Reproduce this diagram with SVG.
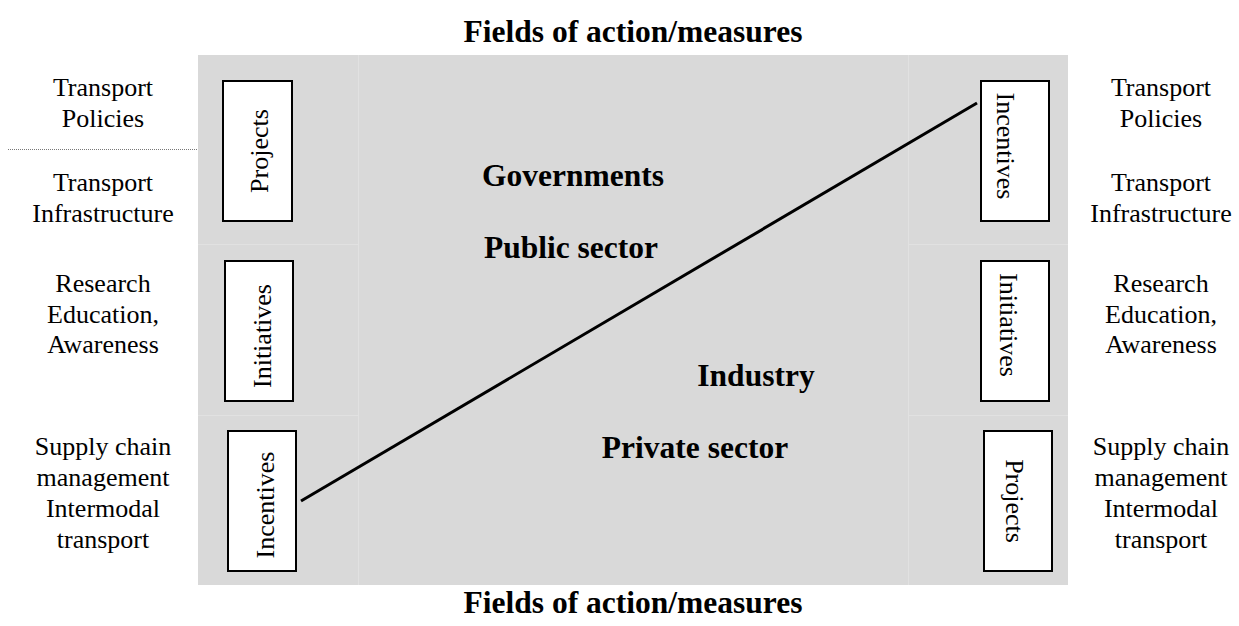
<svg xmlns="http://www.w3.org/2000/svg" width="1239" height="626" viewBox="0 0 1239 626">
<style>
.reg{font-family:"Liberation Serif","Times New Roman",serif;font-size:26px;fill:#000;text-anchor:middle}
.bold{font-family:"Liberation Serif","Times New Roman",serif;font-size:31.5px;font-weight:bold;fill:#000;text-anchor:middle}
.box{fill:#fff;stroke:#000;stroke-width:2}
.faint{stroke:#e1e1e1;stroke-width:1;fill:none}
</style>
<rect x="198" y="55" width="870" height="530" fill="#d9d9d9"/>
<g id="grid">
<line class="faint" x1="358.5" y1="55" x2="358.5" y2="585"/>
<line class="faint" x1="908.5" y1="55" x2="908.5" y2="585"/>
<line class="faint" x1="198" y1="244.5" x2="358" y2="244.5"/>
<line class="faint" x1="198" y1="415.5" x2="358" y2="415.5"/>
<line class="faint" x1="908" y1="244.5" x2="1068" y2="244.5"/>
<line class="faint" x1="908" y1="415.5" x2="1068" y2="415.5"/>
</g>
<line x1="8" y1="149.5" x2="198" y2="149.5" stroke="#777" stroke-width="1" stroke-dasharray="1,1"/>
<text class="bold" x="633" y="42">Fields of action/measures</text>
<text class="bold" x="633" y="613">Fields of action/measures</text>
<g id="left-labels">
<text class="reg" x="103" y="96">Transport</text>
<text class="reg" x="103" y="127">Policies</text>
<text class="reg" x="103" y="191">Transport</text>
<text class="reg" x="103" y="222">Infrastructure</text>
<text class="reg" x="103" y="292">Research</text>
<text class="reg" x="103" y="323">Education,</text>
<text class="reg" x="103" y="353">Awareness</text>
<text class="reg" x="103" y="455">Supply chain</text>
<text class="reg" x="103" y="486">management</text>
<text class="reg" x="103" y="517">Intermodal</text>
<text class="reg" x="103" y="548">transport</text>
</g>
<g id="right-labels">
<text class="reg" x="1161" y="96">Transport</text>
<text class="reg" x="1161" y="127">Policies</text>
<text class="reg" x="1161" y="191">Transport</text>
<text class="reg" x="1161" y="222">Infrastructure</text>
<text class="reg" x="1161" y="292">Research</text>
<text class="reg" x="1161" y="323">Education,</text>
<text class="reg" x="1161" y="353">Awareness</text>
<text class="reg" x="1161" y="455">Supply chain</text>
<text class="reg" x="1161" y="486">management</text>
<text class="reg" x="1161" y="517">Intermodal</text>
<text class="reg" x="1161" y="548">transport</text>
</g>
<g id="center-labels">
<text class="bold" x="573" y="186">Governments</text>
<text class="bold" x="571" y="258">Public sector</text>
<text class="bold" x="756" y="386">Industry</text>
<text class="bold" x="695" y="458">Private sector</text>
</g>
<g id="connectors">
<line x1="301" y1="501" x2="977" y2="103" stroke="#000" stroke-width="3"/>
</g>
<g id="left-projects">
<rect class="box" x="223" y="81" width="69" height="140"/>
<text class="reg" transform="translate(268,151) rotate(-90)">Projects</text>
</g>
<g id="left-initiatives">
<rect class="box" x="225" y="261" width="68" height="140"/>
<text class="reg" transform="translate(271,336) rotate(-90)">Initiatives</text>
</g>
<g id="left-incentives">
<rect class="box" x="228" y="431" width="68" height="140"/>
<text class="reg" transform="translate(274,505) rotate(-90)">Incentives</text>
</g>
<g id="right-incentives">
<rect class="box" x="981" y="81" width="68" height="140"/>
<text class="reg" transform="translate(997,146) rotate(90)">Incentives</text>
</g>
<g id="right-initiatives">
<rect class="box" x="981" y="261" width="68" height="140"/>
<text class="reg" transform="translate(1000,325) rotate(90)">Initiatives</text>
</g>
<g id="right-projects">
<rect class="box" x="984" y="431" width="68" height="140"/>
<text class="reg" transform="translate(1006,501) rotate(90)">Projects</text>
</g>
</svg>
